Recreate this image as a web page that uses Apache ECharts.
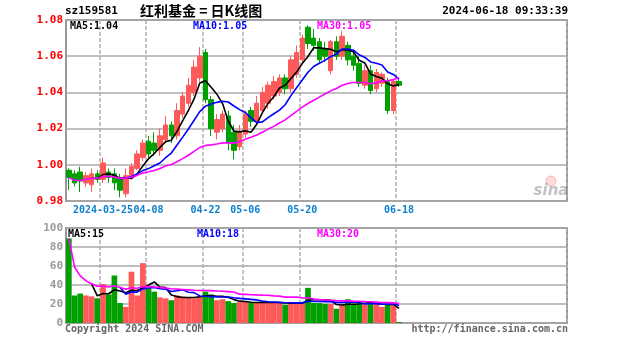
<!DOCTYPE html>
<html>
<head>
<meta charset="utf-8">
<script src="https://cdn.jsdelivr.net/npm/echarts/dist/echarts.min.js"></script>
<style>
html,body{margin:0;padding:0;background:#fff;}
#chart{width:627px;height:342px;}
</style>
</head>
<body>
<div id="chart"></div>
<script>
// Daily bars for sz159581
const days = [
  '2024-03-15','2024-03-18','2024-03-19','2024-03-20','2024-03-21','2024-03-22',
  '2024-03-25','2024-03-26','2024-03-27','2024-03-28','2024-03-29',
  '2024-04-01','2024-04-02','2024-04-03',
  '2024-04-08','2024-04-09','2024-04-10','2024-04-11','2024-04-12',
  '2024-04-15','2024-04-16','2024-04-17','2024-04-18','2024-04-19',
  '2024-04-22','2024-04-23','2024-04-24','2024-04-25','2024-04-26',
  '2024-04-29','2024-04-30',
  '2024-05-06','2024-05-07','2024-05-08','2024-05-09','2024-05-10',
  '2024-05-13','2024-05-14','2024-05-15','2024-05-16','2024-05-17',
  '2024-05-20','2024-05-21','2024-05-22','2024-05-23','2024-05-24',
  '2024-05-27','2024-05-28','2024-05-29','2024-05-30','2024-05-31',
  '2024-06-03','2024-06-04','2024-06-05','2024-06-06','2024-06-07',
  '2024-06-11','2024-06-12','2024-06-18'
];
const opens = [
  0.997,0.995,0.996,0.990,0.989,0.995,0.992,0.996,0.995,0.993,
  0.984,0.994,0.998,1.004,1.013,1.012,1.008,1.014,1.022,1.016,
  1.028,1.034,1.040,1.048,1.062,1.036,1.018,1.020,1.027,1.018,
  1.010,1.017,1.030,1.024,1.030,1.034,1.038,1.040,1.048,1.042,
  1.050,1.058,1.076,1.070,1.068,1.064,1.052,1.068,1.060,1.066,
  1.060,1.056,1.044,1.052,1.042,1.045,1.046,1.030,1.046
];
const closes = [
  0.993,0.990,0.991,0.994,0.995,0.992,1.001,0.993,0.990,0.986,
  0.994,0.999,1.006,1.012,1.006,1.008,1.016,1.022,1.016,1.030,
  1.038,1.044,1.054,1.060,1.036,1.020,1.025,1.028,1.012,1.008,
  1.018,1.028,1.024,1.034,1.040,1.044,1.046,1.048,1.042,1.058,
  1.062,1.070,1.067,1.066,1.058,1.060,1.068,1.060,1.071,1.058,
  1.055,1.045,1.052,1.041,1.051,1.050,1.030,1.046,1.044
];
const lows = [
  0.986,0.988,0.985,0.988,0.985,0.990,0.990,0.990,0.986,0.982,
  0.982,0.992,0.997,1.002,1.004,1.005,1.005,1.012,1.012,1.014,
  1.026,1.032,1.038,1.046,1.034,1.016,1.014,1.018,1.008,1.003,
  1.008,1.015,1.021,1.022,1.028,1.031,1.036,1.038,1.039,1.040,
  1.048,1.056,1.064,1.063,1.056,1.057,1.050,1.058,1.058,1.055,
  1.052,1.043,1.042,1.039,1.040,1.043,1.028,1.028,1.043
];
const highs = [
  0.998,0.997,0.999,0.996,0.998,0.997,1.004,0.998,0.998,0.995,
  0.998,1.001,1.008,1.014,1.016,1.018,1.020,1.027,1.024,1.034,
  1.040,1.048,1.058,1.065,1.064,1.038,1.028,1.030,1.030,1.022,
  1.022,1.030,1.032,1.038,1.043,1.046,1.049,1.050,1.050,1.060,
  1.066,1.072,1.077,1.075,1.070,1.068,1.069,1.071,1.074,1.068,
  1.063,1.060,1.055,1.055,1.053,1.051,1.048,1.047,1.047
];
const volumes = [
  89,29,31,29,28,26,41,30,50,21,
  17,54,29,63,37,33,27,26,24,29,
  28,27,26,28,33,30,24,25,23,21,
  22,22,21,22,22,21,22,21,19,21,
  21,22,37,21,21,20,20,15,19,25,
  20,21,19,22,21,17,19,19,1
];
// dates that get a label and a vertical guide, and the text shown for each
const tickDates = ['2024-03-25','2024-04-08','2024-04-22','2024-05-06','2024-05-20','2024-06-18'];
const tickTexts = ['2024-03-25','04-08','04-22','05-06','05-20','06-18'];
const priceTicks = {min: 0.98, max: 1.08, step: 0.02};
const volumeTicks = {min: 0, max: 100, step: 20};

const SLOTS = 88;                 // the day axis leaves room for a full period
const UP = '#ff5a5a', DOWN = '#00a000';
const MONO = '"DejaVu Sans Mono", monospace';

function movingAvg(arr, n, partial) {
  return arr.map((_, i) => {
    if (i < n - 1 && !partial) return '-';
    const s = Math.max(0, i - n + 1);
    let sum = 0;
    for (let k = s; k <= i; k++) sum += arr[k];
    return sum / (i - s + 1);
  });
}

const candles = days.map((d, i) => [opens[i], closes[i], lows[i], highs[i]]);
const ma5 = movingAvg(closes, 5, false);
const ma10 = movingAvg(closes, 10, false);
const ma30 = movingAvg(closes, 30, true);
const vma5 = movingAvg(volumes, 5, false);
const vma10 = movingAvg(volumes, 10, false);
const vma30 = movingAvg(volumes, 30, true);
const volBars = volumes.map((v, i) => ({
  value: v,
  itemStyle: {color: closes[i] >= opens[i] ? UP : DOWN}
}));

const tickIdx = tickDates.map(d => days.indexOf(d));
const isTick = i => tickIdx.indexOf(i) >= 0;
const last = a => a[a.length - 1];

const gridLine = {show: true, lineStyle: {color: '#aaaaaa', width: 1.5}};
const dayGuide = {show: true, interval: (i) => isTick(i), lineStyle: {color: '#b0b0b0', width: 1.5, type: [4, 2]}};

const chart = echarts.init(document.getElementById('chart'), null, {renderer: 'canvas'});

const lineSeries = (name, data, color, xi, yi) => ({
  name, type: 'line', data, xAxisIndex: xi, yAxisIndex: yi,
  showSymbol: false, symbol: 'none', smooth: false,
  lineStyle: {color, width: 1.6}, z: 5, silent: true
});

const txt = (x, y, text, fill, font, align) => ({
  type: 'text', x, y, z: 20, silent: true,
  style: {text, fill, font, align: align || 'left', verticalAlign: 'middle'}
});

chart.setOption({
  animation: false,
  backgroundColor: '#ffffff',
  grid: [
    {left: 66, top: 20, width: 501, height: 181, show: true, borderColor: '#999999', borderWidth: 2},
    {left: 66, top: 228, width: 501, height: 95, show: true, borderColor: '#999999', borderWidth: 2}
  ],
  xAxis: [
    {
      type: 'category', gridIndex: 0, data: days, max: SLOTS - 1, boundaryGap: true,
      axisLine: {show: false}, axisTick: {show: false},
      splitLine: dayGuide,
      axisLabel: {
        show: true, interval: (i) => isTick(i), hideOverlap: false,
        formatter: (v) => { const k = tickDates.indexOf(v); return k >= 0 ? tickTexts[k] : ''; },
        color: '#0a7fd0', fontFamily: MONO, fontSize: 10, fontWeight: 'bold',
        margin: 4
      }
    },
    {
      type: 'category', gridIndex: 1, data: days, max: SLOTS - 1, boundaryGap: true,
      axisLine: {show: false}, axisTick: {show: false}, axisLabel: {show: false},
      splitLine: dayGuide
    }
  ],
  yAxis: [
    {
      type: 'value', gridIndex: 0, min: priceTicks.min, max: priceTicks.max, interval: priceTicks.step,
      axisLine: {show: false}, axisTick: {show: false}, splitLine: gridLine,
      axisLabel: {color: '#ff0000', fontFamily: MONO, fontSize: 11, fontWeight: 'bold', margin: 3,
                  formatter: (v) => v.toFixed(2)}
    },
    {
      type: 'value', gridIndex: 1, min: volumeTicks.min, max: volumeTicks.max, interval: volumeTicks.step,
      axisLine: {show: false}, axisTick: {show: false}, splitLine: gridLine,
      axisLabel: {color: '#999999', fontFamily: MONO, fontSize: 11, fontWeight: 'bold', margin: 3}
    }
  ],
  series: [
    {
      name: 'K', type: 'candlestick', xAxisIndex: 0, yAxisIndex: 0, data: candles, barWidth: 5,
      itemStyle: {color: UP, color0: DOWN, borderColor: UP, borderColor0: DOWN, borderWidth: 1}, z: 3
    },
    lineSeries('MA5', ma5, '#000000', 0, 0),
    lineSeries('MA10', ma10, '#0000ff', 0, 0),
    lineSeries('MA30', ma30, '#ff00ff', 0, 0),
    {
      name: 'VOL', type: 'bar', xAxisIndex: 1, yAxisIndex: 1, data: volBars,
      barCategoryGap: '0%', z: 3
    },
    lineSeries('VMA5', vma5, '#000000', 1, 1),
    lineSeries('VMA10', vma10, '#0000ff', 1, 1),
    lineSeries('VMA30', vma30, '#ff00ff', 1, 1)
  ],
  graphic: [
    txt(65, 11, 'sz159581', '#000', 'bold 11px ' + MONO),
    txt(140, 11, '红利基金 = 日K线图', '#000', 'bold 14px "Noto Sans CJK SC"'),
    txt(568, 11, '2024-06-18 09:33:39', '#000', 'bold 11px ' + MONO, 'right'),
    txt(70, 26, 'MA5:' + last(ma5).toFixed(2), '#000', 'bold 10px ' + MONO),
    txt(193, 26, 'MA10:' + last(ma10).toFixed(2), '#0000ff', 'bold 10px ' + MONO),
    txt(317, 26, 'MA30:' + last(ma30).toFixed(2), '#ff00ff', 'bold 10px ' + MONO),
    txt(68, 234, 'MA5:' + Math.round(last(vma5)), '#000', 'bold 10px ' + MONO),
    txt(197, 234, 'MA10:' + Math.round(last(vma10)), '#0000ff', 'bold 10px ' + MONO),
    txt(317, 234, 'MA30:' + Math.round(last(vma30)), '#ff00ff', 'bold 10px ' + MONO),
    txt(65, 329, 'Copyright 2024 SINA.COM', '#666', 'bold 10px ' + MONO),
    txt(568, 329, 'http://finance.sina.com.cn', '#666', 'bold 10px ' + MONO, 'right'),
    {type: 'circle', shape: {cx: 551, cy: 181, r: 5}, z: 2, silent: true,
     style: {fill: 'rgba(255,110,110,0.25)', stroke: 'rgba(230,90,90,0.35)', lineWidth: 1}},
    txt(551, 191, 'sina', 'rgba(120,120,120,0.45)', 'italic bold 15px "DejaVu Sans"', 'center')
  ]
});
</script>
</body>
</html>
